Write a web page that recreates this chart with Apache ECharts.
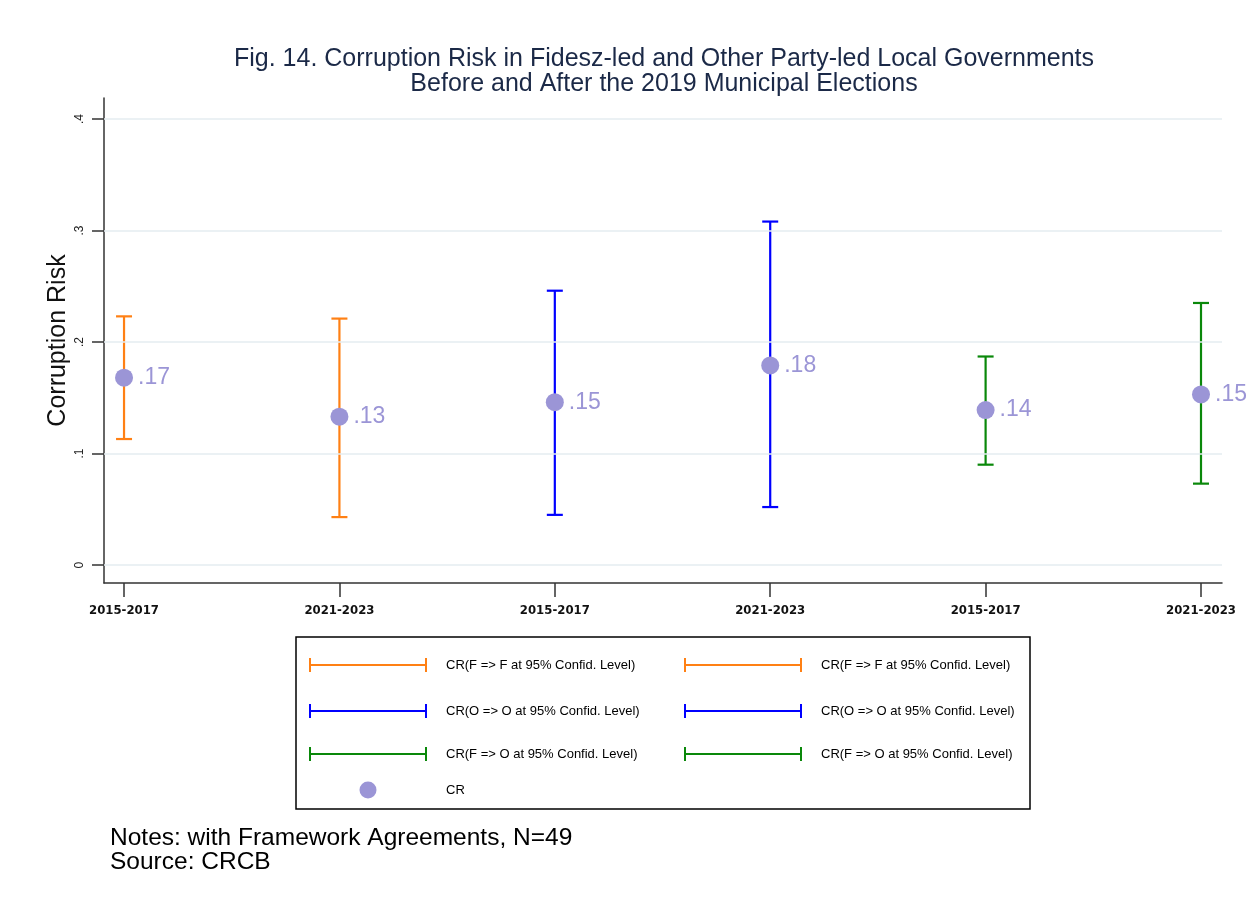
<!DOCTYPE html>
<html>
<head>
<meta charset="utf-8">
<script src="https://cdn.jsdelivr.net/npm/echarts@6/dist/echarts.min.js"></script>
<style>html,body{margin:0;padding:0;background:#fff}#c{width:1251px;height:909px}</style>
</head>
<body>
<div id="c"></div>
<script>
// ---- data ----
const periodLabels = ['2015-2017', '2021-2023', '2015-2017', '2021-2023', '2015-2017', '2021-2023'];
const crMeans = [0.168, 0.133, 0.146, 0.179, 0.139, 0.153];
const ciLow   = [0.113, 0.043, 0.045, 0.052, 0.090, 0.073];
const ciHigh  = [0.223, 0.221, 0.246, 0.308, 0.187, 0.235];
const ciNames = [
  'CR(F => F at 95% Confid. Level)', 'CR(F => F at 95% Confid. Level)\u200b',
  'CR(O => O at 95% Confid. Level)', 'CR(O => O at 95% Confid. Level)\u200b',
  'CR(F => O at 95% Confid. Level)', 'CR(F => O at 95% Confid. Level)\u200b'
];
const ciColors = ['#ff8014', '#ff8014', '#0000ff', '#0000ff', '#0a880a', '#0a880a'];
const yTicks = [0, 0.1, 0.2, 0.3, 0.4];
const xTicks = [0, 1, 2, 3, 4, 5];
const meanName = 'CR';
const dotColor = '#9b95d6';

const fmtShort = v => v === 0 ? '0' : v.toFixed(2).replace(/^0\./, '.').replace(/0$/, '');
const fmtTick = v => v === 0 ? '0' : String(Math.round(v * 10) / 10).replace(/^0\./, '.');

function renderCap(params, api) {
  const x = api.value(0), lo = api.value(1), hi = api.value(2);
  const a = api.coord([x, lo]), b = api.coord([x, hi]);
  const hw = 8;
  const style = { stroke: api.visual('color'), lineWidth: 2.2, fill: null };
  return {
    type: 'group',
    children: [
      { type: 'line', shape: { x1: a[0], y1: a[1], x2: b[0], y2: b[1] }, style },
      { type: 'line', shape: { x1: a[0] - hw, y1: a[1], x2: a[0] + hw, y2: a[1] }, style },
      { type: 'line', shape: { x1: b[0] - hw, y1: b[1], x2: b[0] + hw, y2: b[1] }, style }
    ]
  };
}

const capIcon = 'path://M0,0h2v6h114v-6h2v14h-2v-6h-114v6h-2z';

const series = [
  {
    type: 'line', name: '_grid', data: [], silent: true, z: 0,
    markLine: {
      silent: true, symbol: ['none', 'none'], animation: false,
      label: { show: false },
      lineStyle: { color: '#e4edf0', width: 1.5, type: 'solid' },
      data: yTicks.map(v => ({ yAxis: v }))
    }
  }
];
ciNames.forEach((n, i) => {
  series.push({
    type: 'custom', name: n, renderItem: renderCap, z: 3,
    itemStyle: { color: ciColors[i] },
    encode: { x: 0, y: [1, 2] },
    data: [[xTicks[i], ciLow[i], ciHigh[i]]]
  });
});
series.push({
  type: 'scatter', name: meanName, symbolSize: 18, z: 5,
  itemStyle: { color: dotColor, opacity: 1 },
  label: {
    show: true, position: 'right', distance: 5,
    fontSize: 23, color: dotColor, fontFamily: 'Liberation Sans',
    formatter: p => fmtShort(p.value[1])
  },
  data: crMeans.map((v, i) => [xTicks[i], v])
});

function legTxt(padLeft) {
  return { color: '#000', fontSize: 13, fontFamily: 'Liberation Sans', padding: [0, 0, 0, padLeft] };
}
function leg(name, left, top, icon, w, h, padLeft) {
  return {
    data: [name], left, top, padding: 0, itemWidth: w, itemHeight: h,
    icon, selectedMode: false, textStyle: legTxt(padLeft),
    formatter: s => s.replace('\u200b', '')
  };
}
const rowY = [665, 711, 754];
const legends = [];
for (let r = 0; r < 3; r++) {
  legends.push(leg(ciNames[2 * r], 309, rowY[r] - 7, capIcon, 118, 14, 14));
  legends.push(leg(ciNames[2 * r + 1], 684, rowY[r] - 7, capIcon, 118, 14, 14));
}
legends.push(leg(meanName, 359.5, 790 - 8.5, 'circle', 17, 17, 64.5));

const option = {
  animation: false,
  backgroundColor: '#fff',
  textStyle: { fontFamily: 'Liberation Sans' },
  title: [
    {
      text: 'Fig. 14. Corruption Risk in Fidesz-led and Other Party-led Local Governments\nBefore and After the 2019 Municipal Elections',
      left: 664, top: 47, padding: 0, textAlign: 'center',
      textStyle: { fontSize: 25, fontWeight: 'normal', color: '#1b2947', lineHeight: 25, fontFamily: 'Liberation Sans' }
    },
    {
      text: 'Notes: with Framework Agreements, N=49\nSource: CRCB',
      left: 110, top: 826, padding: 0,
      textStyle: { fontSize: 24.5, fontWeight: 'normal', color: '#000', lineHeight: 24, fontFamily: 'Liberation Sans' }
    }
  ],
  grid: { left: 104, right: 29, top: 98, bottom: 326, containLabel: false },
  xAxis: {
    type: 'value', min: -0.093, max: 5.0975,
    axisLine: { show: true, onZero: false, lineStyle: { color: '#333', width: 1.5 } },
    axisTick: { show: true, customValues: xTicks, length: 14, lineStyle: { color: '#333', width: 1.5 } },
    axisLabel: {
      customValues: xTicks, margin: 21, formatter: v => periodLabels[Math.round(v)] || '',
      fontFamily: "'DejaVu Sans Condensed', 'Liberation Sans'", fontWeight: 'bold', fontSize: 13, color: '#111'
    },
    splitLine: { show: false }
  },
  yAxis: {
    type: 'value', min: -0.0161, max: 0.4188,
    name: 'Corruption Risk', nameLocation: 'middle', nameGap: 33, nameMoveOverlap: false,
    nameTextStyle: { fontSize: 25, color: '#111', fontFamily: 'Liberation Sans' },
    axisLine: { show: true, onZero: false, lineStyle: { color: '#333', width: 1.5 } },
    axisTick: { show: true, customValues: yTicks, length: 12, lineStyle: { color: '#333', width: 1.5 } },
    axisLabel: {
      customValues: yTicks, rotate: 90, margin: 18, formatter: v => fmtTick(v),
      fontSize: 12, color: '#222', fontFamily: 'Liberation Sans'
    },
    splitLine: { show: false }
  },
  legend: legends,
  graphic: [
    { type: 'rect', shape: { x: 296, y: 637, width: 734, height: 172 }, style: { fill: null, stroke: '#000', lineWidth: 1.5 }, z: 10 }
  ],
  series
};

const chart = echarts.init(document.getElementById('c'), null, { renderer: 'canvas' });
chart.setOption(option);
</script>
</body>
</html>
